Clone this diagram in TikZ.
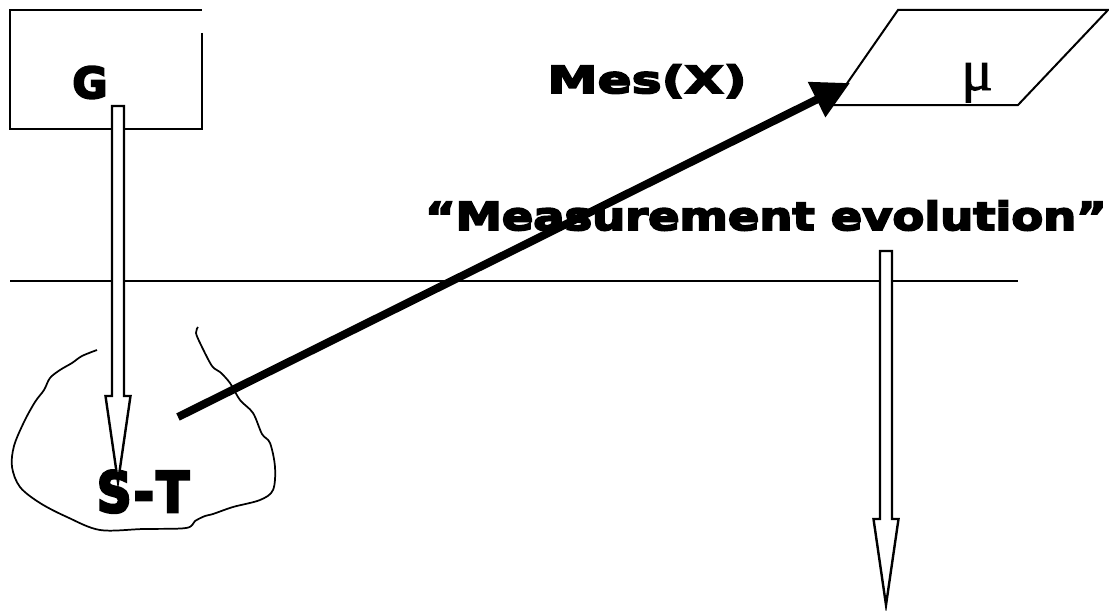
\documentclass[tikz,border=0pt]{standalone}
\usepackage{fontspec}
\newfontfamily\heavyfont[FakeBold=5]{DejaVu Sans Bold}
\newfontfamily\greekfont[FakeBold=1.5]{Liberation Serif}
\usetikzlibrary{arrows.meta, calc}

\newcommand{\hollowarrow}[2]{%
  \draw[hollow] ($(#1)+(-6,0)$) -- ($(#2)+(-6,-86)$) -- ($(#2)+(-12.5,-86)$) -- (#2)
    -- ($(#2)+(12.5,-86)$) -- ($(#2)+(6,-86)$) -- ($(#1)+(6,0)$) -- cycle;}

\begin{document}
\begin{tikzpicture}[x=0.75pt, y=-0.75pt, >=Triangle,
  outline/.style={draw, line width=1.5pt},
  hollow/.style={draw, line width=1.8pt, fill=white, line join=miter},
  label/.style={inner sep=0pt, anchor=base, font=\heavyfont}]
  \useasboundingbox (0,0) rectangle (1109,610);

  \draw[outline] (202,33) -- (202,129) -- (10,129) -- (10,10) -- (202,10);
  \draw[outline] (898,10) -- (1108,10) -- (1018,105) -- (832,105) -- cycle;
  \draw[outline] (10,281) -- (1018,281);
  \draw[outline, line width=1.3pt] plot[smooth, tension=0.55] coordinates {
    (97,350) (82,356) (72,363) (60,370) (50,378) (44,390) (35,402) (24,422)
    (14,446) (12,467) (20,487) (40,503) (67,517) (100,530) (143,529) (186,528)
    (195,521) (205,516) (213,514) (233,507) (260,500) (273,490) (275,467)
    (270,443) (262,434) (253,413) (240,400) (230,383) (220,372) (212,366)
    (201,345) (196,333) (198,327)};

  \node[label, font=\heavyfont\fontsize{32}{32}\selectfont] (g) at (90,98) {G};
  \node[label, font=\heavyfont\fontsize{28}{28}\selectfont\addfontfeatures{FakeStretch=1.35}] (mes) at (647,93) {Mes(X)};
  \node[label, font=\greekfont\fontsize{44}{44}\selectfont] (mu) at (977,90) {μ};
  \node[label, font=\heavyfont\fontsize{29}{29}\selectfont\addfontfeatures{FakeStretch=1.2}] (evol) at (766,230) {“Measurement evolution”};
  \node[label, font=\heavyfont\fontsize{42}{42}\selectfont\addfontfeatures{FakeStretch=0.85}] (st) at (143,512) {S\kern2pt-\kern2pt T};

  \coordinate (gfoot) at (118,106);
  \coordinate (sttip) at (118,482);
  \coordinate (evtop) at (886,251);
  \coordinate (evtip) at (886,605);
  \coordinate (stfrom) at (178,417);
  \coordinate (mutip) at (850,83);

  \hollowarrow{gfoot}{sttip}
  \hollowarrow{evtop}{evtip}
  \draw[->, line width=6pt, arrows={-Triangle[length=28pt, width=28pt]}] (stfrom) -- (mutip);
\end{tikzpicture}
\end{document}
